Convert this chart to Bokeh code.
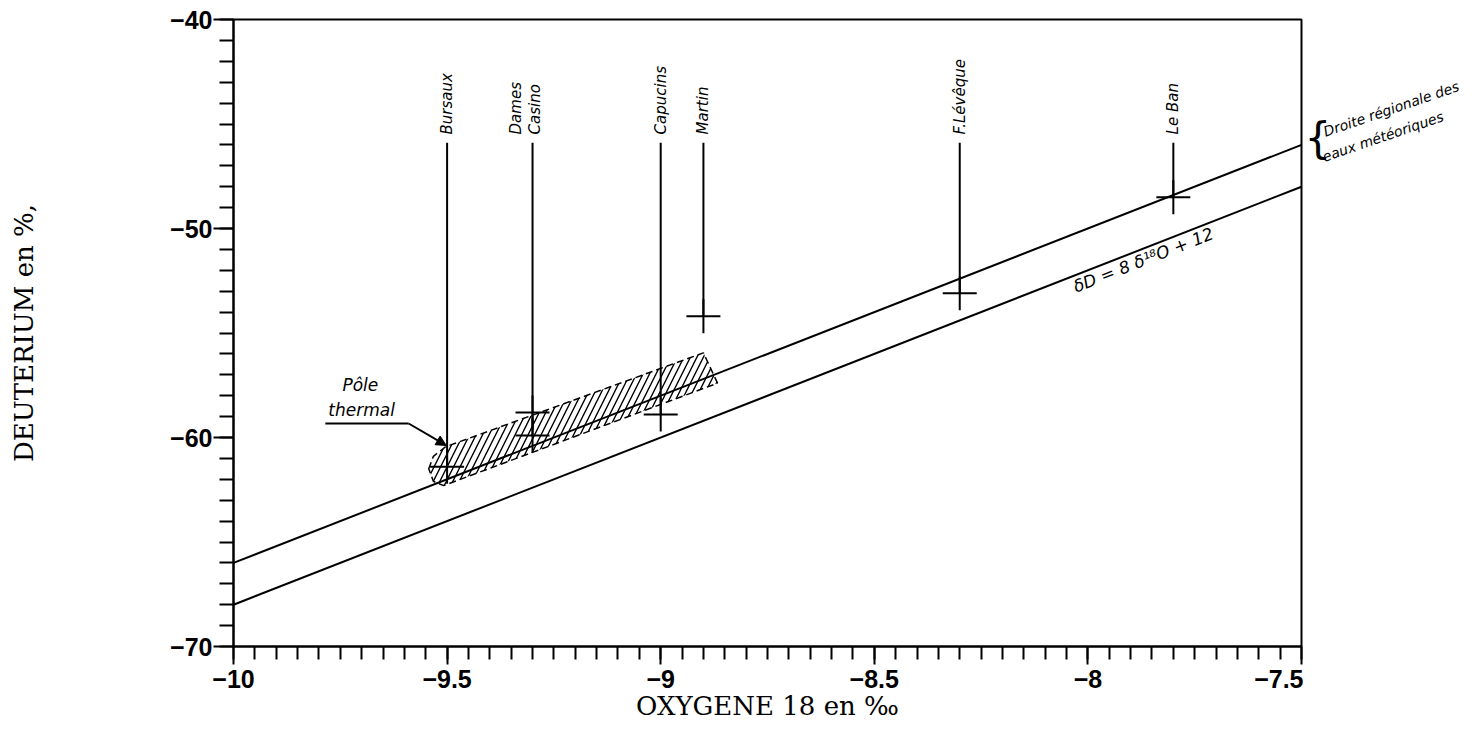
import numpy as np
from bokeh.plotting import figure
from bokeh.layouts import row
from bokeh.models import FixedTicker, Label, Arrow, NormalHead, Range1d, ColumnDataSource
from bokeh.embed import file_html
from bokeh.resources import INLINE
from bokeh.core.properties import value

# ---------------- data ----------------
x_ticks = [-10, -9.5, -9, -8.5, -8, -7.5]
x_tick_labels = ["−10", "−9.5", "−9", "−8.5", "−8", "−7.5"]
y_ticks = [-70, -60, -50, -40]
y_tick_labels = ["−70", "−60", "−50", "−40"]

station_names = ["Bursaux", "Capucins", "Martin", "F.Lévêque", "Le Ban"]
station_o18 = [-9.5, -9.0, -8.9, -8.3, -7.8]
station_bottom = [-61.4, -58.9, -54.2, -53.1, -48.5]
dc_name = ["Dames\nCasino"]
dc_o18 = [-9.3]
dc_bottom = [-59.9]

sample_o18 = [-9.5, -9.3, -9.3, -9.0, -8.9, -8.3, -7.8]
sample_dD = [-61.4, -58.8, -59.9, -58.9, -54.2, -53.1, -48.5]

line_o18 = [-10.0, -7.5]
regional_dD = [-66.0, -46.0]   # droite régionale des eaux météoriques
global_dD = [-68.0, -48.0]     # δD = 8 δ18O + 12

pole_o18 = [-9.543, -9.532, -9.504, -8.900, -8.867, -9.508, -9.532]
pole_dD = [-61.5, -60.9, -60.45, -55.95, -57.4, -62.3, -62.1]

label_top = -45.5
line_top = -45.9

ITAL = value("DejaVu Sans")
PX = 427.2  # pixels per x unit

p = figure(output_backend="svg", toolbar_location=None,
           frame_width=1068, frame_height=627,
           min_border_left=233, min_border_right=2,
           min_border_top=19, min_border_bottom=70,
           x_range=Range1d(-10, -7.5), y_range=Range1d(-70, -40))
p.background_fill_color = "white"
p.border_fill_color = "white"
p.outline_line_color = "black"
p.outline_line_width = 2
p.outline_line_alpha = 1
p.xgrid.visible = False
p.ygrid.visible = False

# axes
p.xaxis.ticker = FixedTicker(ticks=x_ticks, minor_ticks=list(np.round(np.arange(-10, -7.49, 0.05), 2)))
p.xaxis.major_label_overrides = dict(zip(x_ticks, x_tick_labels))
p.yaxis.ticker = FixedTicker(ticks=y_ticks, minor_ticks=list(range(-70, -39)))
p.yaxis.major_label_overrides = dict(zip(y_ticks, y_tick_labels))
for ax in (p.xaxis, p.yaxis):
    ax.axis_line_color = "black"
    ax.axis_line_width = 2
    ax.major_tick_line_color = "black"
    ax.major_tick_line_width = 2
    ax.minor_tick_line_color = "black"
    ax.minor_tick_line_width = 2
    ax.major_tick_in = 0
    ax.minor_tick_in = 0
    ax.major_label_text_font = "Liberation Sans"
    ax.major_label_text_font_style = "bold"
    ax.major_label_text_font_size = "25px"
    ax.major_label_text_color = "black"
    ax.axis_label_text_font = "DejaVu Serif"
    ax.axis_label_text_font_style = "normal"
    ax.axis_label_text_font_size = "26px"
    ax.axis_label_text_color = "black"
p.xaxis.major_tick_out = 18
p.xaxis.minor_tick_out = 13
p.xaxis.major_label_standoff = 5
p.yaxis.major_tick_out = 20
p.yaxis.minor_tick_out = 14
p.yaxis.major_label_standoff = 1
p.xaxis.axis_label = "OXYGENE 18 en ‰"
p.xaxis.axis_label_standoff = 0
p.yaxis.axis_label = "DEUTERIUM en %,"
p.yaxis.axis_label_standoff = 128

# meteoric water lines
p.line(line_o18, regional_dD, line_color="black", line_width=2)
p.line(line_o18, global_dD, line_color="black", line_width=2)

# thermal pole envelope
p.patch(pole_o18, pole_dD, fill_color=None, fill_alpha=0,
        hatch_pattern="/", hatch_color="black", hatch_scale=13, hatch_weight=1.4,
        line_color="black", line_width=1.5, line_dash="7 4")

# station leader lines
p.segment(x0=station_o18, y0=[line_top] * len(station_o18), x1=station_o18, y1=station_bottom,
          line_color="black", line_width=2)
p.segment(x0=dc_o18, y0=[line_top], x1=dc_o18, y1=dc_bottom, line_color="black", line_width=2)

# samples
p.scatter(sample_o18, sample_dD, marker="cross", size=34, line_color="black", line_width=2)

# station names
src = ColumnDataSource(dict(x=station_o18, y=[label_top] * len(station_o18), t=station_names))
p.text(x="x", y="y", text="t", source=src, angle=np.pi / 2, text_align="left",
       text_baseline="middle", text_font=ITAL, text_font_style="italic",
       text_font_size="15px", text_color="black")
p.text(x=dc_o18, y=[label_top], text=dc_name, angle=np.pi / 2, text_align="left",
       text_baseline="middle", x_offset=-7, text_font=ITAL, text_font_style="italic",
       text_font_size="15px", text_color="black", text_line_height=1.05)

# Pôle thermal annotation
p.line([-9.785, -9.59], [-59.33, -59.33], line_color="black", line_width=2)
p.add_layout(Arrow(end=NormalHead(size=10, fill_color="black", line_color="black"),
                   x_start=-9.59, y_start=-59.33, x_end=-9.502, y_end=-60.38,
                   line_color="black", line_width=2))
p.add_layout(Label(x=-9.745, y=-57.95, text="Pôle", text_font="DejaVu Sans",
                   text_font_style="italic", text_font_size="17px", text_color="black"))
p.add_layout(Label(x=-9.778, y=-59.14, text="thermal", text_font="DejaVu Sans",
                   text_font_style="italic", text_font_size="17px", text_color="black"))

# equation under the lower line
p.add_layout(Label(x=-8.024, y=-53.25, text="δD = 8 δ¹⁸O + 12", angle=21.4, angle_units="deg",
                   text_font="DejaVu Sans", text_font_style="italic", text_font_size="17px",
                   text_color="black"))

# ---- right margin panel (same data scale, continuing past -7.5) ----
p2 = figure(output_backend="svg", toolbar_location=None,
            frame_width=170, frame_height=627,
            min_border_left=0, min_border_right=0, min_border_top=19, min_border_bottom=0,
            x_range=Range1d(-7.5 + 2 / PX, -7.5 + 172 / PX), y_range=Range1d(-70, -40),
            x_axis_type=None, y_axis_type=None)
p2.outline_line_color = None
p2.background_fill_color = "white"
p2.border_fill_color = "white"
p2.add_layout(Label(x=-7.5 + 3 / PX, y=-46.85, text="{",
                    text_font="DejaVu Sans", text_font_size="42px", text_color="black"))
p2.add_layout(Label(x=-7.5 + 25 / PX, y=-45.75, text="Droite régionale des", angle=19,
                    angle_units="deg", text_font="DejaVu Sans", text_font_style="italic",
                    text_font_size="14px", text_color="black"))
p2.add_layout(Label(x=-7.5 + 24 / PX, y=-46.95, text="eaux météoriques", angle=19,
                    angle_units="deg", text_font="DejaVu Sans", text_font_style="italic",
                    text_font_size="14px", text_color="black"))

layout = row(p, p2, spacing=0)
open("out.html", "w").write(file_html(layout, INLINE))
